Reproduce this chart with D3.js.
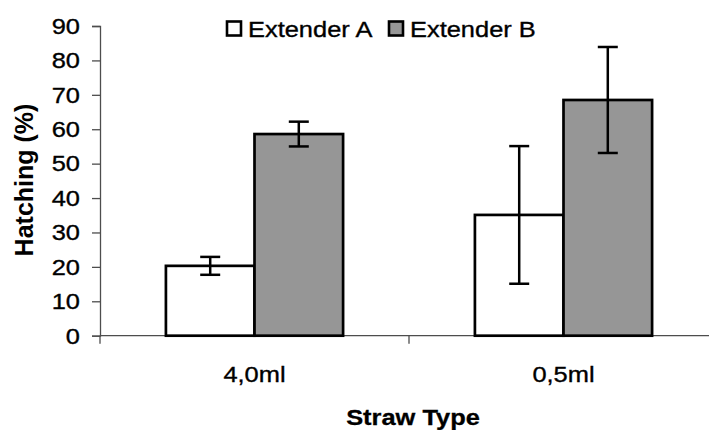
<!DOCTYPE html>
<html>
<head>
<meta charset="utf-8">
<script src="https://cdn.jsdelivr.net/npm/d3@7"></script>
<style>
  html, body { margin: 0; padding: 0; background: #fff; }
  svg { display: block; }
</style>
</head>
<body>
<div id="chart"></div>
<script>
// ############################################################################
// Hatching by straw type and extender                               Bar chart
// ############################################################################

// ----------------------------------------------------------------------------
// Data
// ----------------------------------------------------------------------------

const categories = ['4,0ml', '0,5ml']
const seriesNames = ['Extender A', 'Extender B']
const extenderA = [20.3, 35.1]
const extenderB = [58.6, 68.5]
const errorA = [2.6, 20.0]
const errorB = [3.6, 15.4]
const yTicks = [0, 10, 20, 30, 40, 50, 60, 70, 80, 90]

const seriesValues = [extenderA, extenderB]
const seriesErrors = [errorA, errorB]
const seriesFill = ['#ffffff', '#969696']

// ----------------------------------------------------------------------------
// Layout
// ----------------------------------------------------------------------------

const width = 709
const height = 430
const plot = { left: 100, right: 718, top: 26, bottom: 335.7 }
const fontSize = 22.5
const stretch = 1.13   // text in the source is drawn a bit wide

const svg = d3.select('#chart').append('svg')
  .attr('width', width)
  .attr('height', height)
  .style('font-family', 'Arial, "Liberation Sans", sans-serif')

const x = d3.scaleBand()
  .domain(categories)
  .range([plot.left, plot.right])

const xInner = d3.scaleBand()
  .domain(seriesNames)
  .range([0, x.bandwidth()])
  .paddingOuter(0.744)

const y = d3.scaleLinear()
  .domain([0, 90])
  .range([plot.bottom, plot.top])

// Horizontally stretched text helper
function label(g, tx, ty, text, anchor, bold)
{
  return g.append('text')
    .attr('transform', 'translate(' + tx + ',' + ty + ') scale(' + stretch + ',1)')
    .attr('text-anchor', anchor)
    .style('font-size', fontSize + 'px')
    .style('font-weight', bold ? 'bold' : 'normal')
    .attr('fill', '#000')
    .attr('stroke', '#000')
    .attr('stroke-width', bold ? 0.3 : 0.35)
    .text(text)
}

// ============================================================================
// Axes
// ============================================================================

const axisColor = '#4d4d4d'

// Y axis
const yAxis = svg.append('g')
  .attr('transform', 'translate(' + plot.left + ',0)')
  .call(d3.axisLeft(y).tickValues(yTicks).tickSize(8).tickFormat(''))
yAxis.select('.domain').attr('stroke', axisColor).attr('stroke-width', 1.3)
yAxis.selectAll('.tick line').attr('stroke', axisColor).attr('stroke-width', 1.3)

for (let t of yTicks)
  label(svg, plot.left - 20, y(t) + 7.8, String(t), 'end', false)

// X axis (category boundaries as ticks)
const xAxis = svg.append('g')
  .attr('transform', 'translate(0,' + plot.bottom + ')')
xAxis.append('line')
  .attr('x1', plot.left).attr('x2', plot.right)
  .attr('stroke', axisColor).attr('stroke-width', 1.3)
xAxis.selectAll('.xtick')
  .data(categories)
  .join('line')
  .attr('class', 'xtick')
  .attr('x1', d => x(d)).attr('x2', d => x(d))
  .attr('y1', 0).attr('y2', 8)
  .attr('stroke', axisColor).attr('stroke-width', 1.3)

for (let c of categories)
  label(svg, x(c) + x.bandwidth() / 2, 382, c, 'middle', false)

// ============================================================================
// Bars and error bars
// ============================================================================

const groups = svg.append('g')
  .selectAll('g')
  .data(categories)
  .join('g')
  .attr('transform', d => 'translate(' + x(d) + ',0)')

seriesNames.forEach((s, si) =>
{
  groups.append('rect')
    .attr('x', xInner(s))
    .attr('y', (d, i) => y(seriesValues[si][i]))
    .attr('width', xInner.bandwidth())
    .attr('height', (d, i) => y(0) - y(seriesValues[si][i]))
    .attr('fill', seriesFill[si])
    .attr('stroke', '#000')
    .attr('stroke-width', 2.7)
})

seriesNames.forEach((s, si) =>
{
  const cx = xInner(s) + xInner.bandwidth() / 2
  const cap = 10
  const lo = (d, i) => y(seriesValues[si][i] - seriesErrors[si][i])
  const hi = (d, i) => y(seriesValues[si][i] + seriesErrors[si][i])

  groups.append('line')
    .attr('x1', cx).attr('x2', cx)
    .attr('y1', lo).attr('y2', hi)
    .attr('stroke', '#000').attr('stroke-width', 2.5)
  groups.append('line')
    .attr('x1', cx - cap).attr('x2', cx + cap)
    .attr('y1', lo).attr('y2', lo)
    .attr('stroke', '#000').attr('stroke-width', 2.5)
  groups.append('line')
    .attr('x1', cx - cap).attr('x2', cx + cap)
    .attr('y1', hi).attr('y2', hi)
    .attr('stroke', '#000').attr('stroke-width', 2.5)
})

// ============================================================================
// Titles
// ============================================================================

label(svg, 413, 425, 'Straw Type', 'middle', true)

svg.append('text')
  .attr('transform', 'translate(33,180) rotate(-90)')
  .attr('text-anchor', 'middle')
  .style('font-size', '25px')
  .style('font-weight', 'bold')
  .text('Hatching (%)')

// ============================================================================
// Legend
// ============================================================================

const legendX = [227, 389]
seriesNames.forEach((s, si) =>
{
  svg.append('rect')
    .attr('x', legendX[si]).attr('y', 21.5)
    .attr('width', 14).attr('height', 14)
    .attr('fill', seriesFill[si])
    .attr('stroke', '#000')
    .attr('stroke-width', 2.6)
  label(svg, legendX[si] + 21, 37, s, 'start', false)
})
</script>
</body>
</html>
